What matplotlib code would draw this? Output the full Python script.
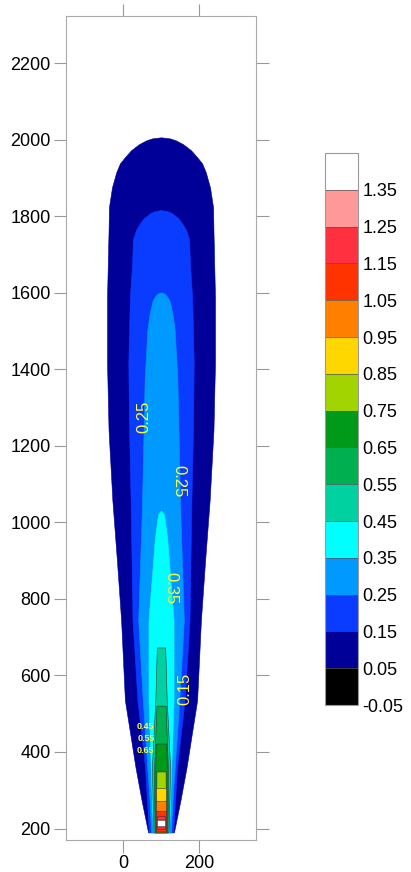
import matplotlib
matplotlib.use("Agg")
import matplotlib.pyplot as plt
import matplotlib as mpl
from matplotlib.colors import ListedColormap, BoundaryNorm

plt.rcParams['font.family'] = ['Liberation Sans', 'DejaVu Sans']

# contour levels and their fill colours (lowest first)
levels = [-0.05, 0.05, 0.15, 0.25, 0.35, 0.45, 0.55, 0.65, 0.75, 0.85,
          0.95, 1.05, 1.15, 1.25, 1.35, 1.45]
colors = ['#000000', '#000099', '#0A3CFF', '#0099FF', '#00FFFF', '#00D1A0',
          '#00B050', '#009A1A', '#A2D400', '#FFD700', '#FF8000', '#FF3300',
          '#FF3040', '#FF9999', '#FFFFFF']

x_center = 100

# outline of each filled band: heights and half widths
band_y = {
    0.05: [190, 273, 359, 535, 744, 900, 1058, 1240, 1416, 1588, 1763, 1823,
           1875, 1914, 1938, 1954, 1972, 1988, 1998, 2003, 2006],
    0.15: [190, 273, 359, 535, 744, 1058, 1240, 1416, 1588, 1677, 1738, 1764,
           1782, 1795, 1808, 1813, 1816],
    0.25: [190, 273, 359, 535, 744, 1047, 1377, 1502, 1546, 1580, 1588, 1595,
           1598, 1601],
    0.35: [190, 273, 359, 535, 744, 961, 1020, 1031],
    0.45: [190, 273, 359, 535, 673],
    0.55: [190, 273, 359, 521],
    0.65: [190, 273, 359, 422],
    0.75: [190, 349],
    0.85: [190, 305],
    0.95: [190, 273],
    1.05: [194, 247],
    1.15: [198, 234],
    1.25: [203, 226],
    1.35: [207, 221],
}
band_h = {
    0.05: [34, 51, 67, 95, 105, 116, 128, 138, 142, 142, 138, 137,
           129, 118, 108, 95, 79, 58, 39, 24, 0],
    0.15: [32, 37, 42, 62, 75, 80, 84, 86, 82, 76, 74, 66,
           55, 45, 28, 16, 0],
    0.25: [26, 30, 36, 48, 60, 50, 43, 36, 30, 22, 17, 12, 8, 0],
    0.35: [21, 24, 27, 33, 33, 16, 8, 0],
    0.45: [20, 22, 24, 15, 11],
    0.55: [17, 18, 18, 12],
    0.65: [15, 15, 15, 14],
    0.75: [13, 12],
    0.85: [12, 12],
    0.95: [12, 12],
    1.05: [12, 12],
    1.15: [11, 11],
    1.25: [11, 11],
    1.35: [10, 10],
}

# contour labels: text, x, y, rotation
clabel_text = ['0.25', '0.25', '0.35', '0.15']
clabel_x = [54, 148, 126, 164]
clabel_y = [1275, 1107, 827, 566]
clabel_rot = [90, 270, 270, 90]

# crowded labels of the tight contours near the source
crowd_text = ['0.45', '0.55', '0.65']
crowd_x = [60, 62, 60]
crowd_y = [467, 435, 404]

fig = plt.figure(figsize=(4.11, 8.72), dpi=100)
ax = fig.add_axes([0.1606, 0.0367, 0.4623, 0.945])

for lev in band_y:
    idx = levels.index(lev)
    ys = band_y[lev]
    hs = band_h[lev]
    left = [x_center - h for h in hs]
    right = [x_center + h for h in hs]
    ax.fill_betweenx(ys, left, right, color=colors[idx], lw=0.4,
                     edgecolor='#333333' if lev > 0.4 else colors[idx])

for t, x, y, r in zip(clabel_text, clabel_x, clabel_y, clabel_rot):
    ax.text(x, y, t, rotation=r, color='#FFFF33', fontsize=12,
            ha='center', va='center')

for t, x, y in zip(crowd_text, crowd_x, crowd_y):
    ax.text(x, y, t, color='#FFFF33', fontsize=6.5, ha='center',
            va='center', fontweight='bold')

ax.set_xlim(-150, 350)
ax.set_ylim(170, 2323)
ax.set_xticks([0, 200])
ax.set_yticks([200, 400, 600, 800, 1000, 1200, 1400, 1600, 1800, 2000, 2200])
ax.tick_params(direction='out', length=9, color='#999999', labelsize=13,
               top=True, right=True, labeltop=False, labelright=False,
               pad=2)
for s in ax.spines.values():
    s.set_color('#AAAAAA')

cax = fig.add_axes([0.791, 0.1915, 0.080, 0.633])
cmap = ListedColormap(colors)
norm = BoundaryNorm(levels, cmap.N)
cb = mpl.colorbar.ColorbarBase(cax, cmap=cmap, norm=norm, boundaries=levels,
                               ticks=levels[:-1], drawedges=True)
cb.minorticks_off()
cb.dividers.set_color('#555555')
cb.dividers.set_linewidth(0.5)
cb.outline.set_edgecolor('#999999')
cb.ax.tick_params(length=0, labelsize=13, pad=3)
cb.set_ticklabels(['%.2f' % v for v in levels[:-1]])

fig.savefig('out.png', dpi=100)
